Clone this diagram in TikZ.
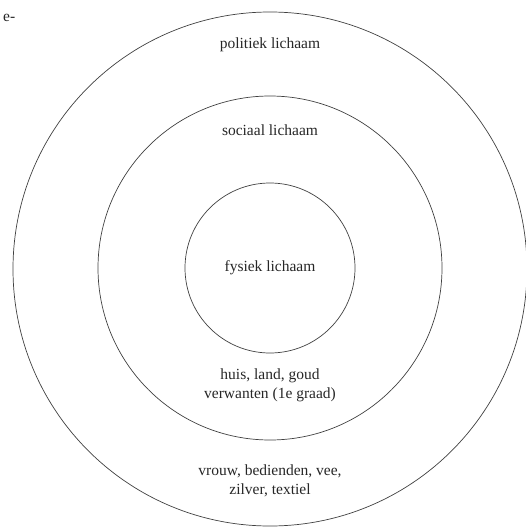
\documentclass[tikz,border=0pt]{standalone}
\usepackage{fontspec}
\setmainfont{Liberation Serif}
\usetikzlibrary{positioning}

\begin{document}
\begin{tikzpicture}[
  x=1pt, y=-1pt,
  ring/.style={draw=black!75, circle, line width=0.7pt, inner sep=0pt},
  lbl/.style={align=center, inner sep=1pt, text=black!85,
    font=\fontsize{15.5}{19}\selectfont}
]
\useasboundingbox (0,0) rectangle (525,527);
\node[ring, minimum size=514pt] (outer) at (270,269) {};
\node[ring, minimum size=344pt] (middle) at (270,268) {};
\node[ring, minimum size=170pt] (inner) at (270,268) {};

\node[lbl] (fysiek) at (inner) {fysiek lichaam};
\node[lbl] (sociaal) at (270,130) {sociaal lichaam};
\node[lbl] (politiek) at (270,45) {politiek lichaam};
\node[lbl] (huis) at (270,385) {huis, land, goud\\verwanten (1e graad)};
\node[lbl] (vrouw) at (270,481) {vrouw, bedienden, vee,\\zilver, textiel};
\node[lbl, anchor=west] (corner) at (2,18) {e-};
\end{tikzpicture}
\end{document}
